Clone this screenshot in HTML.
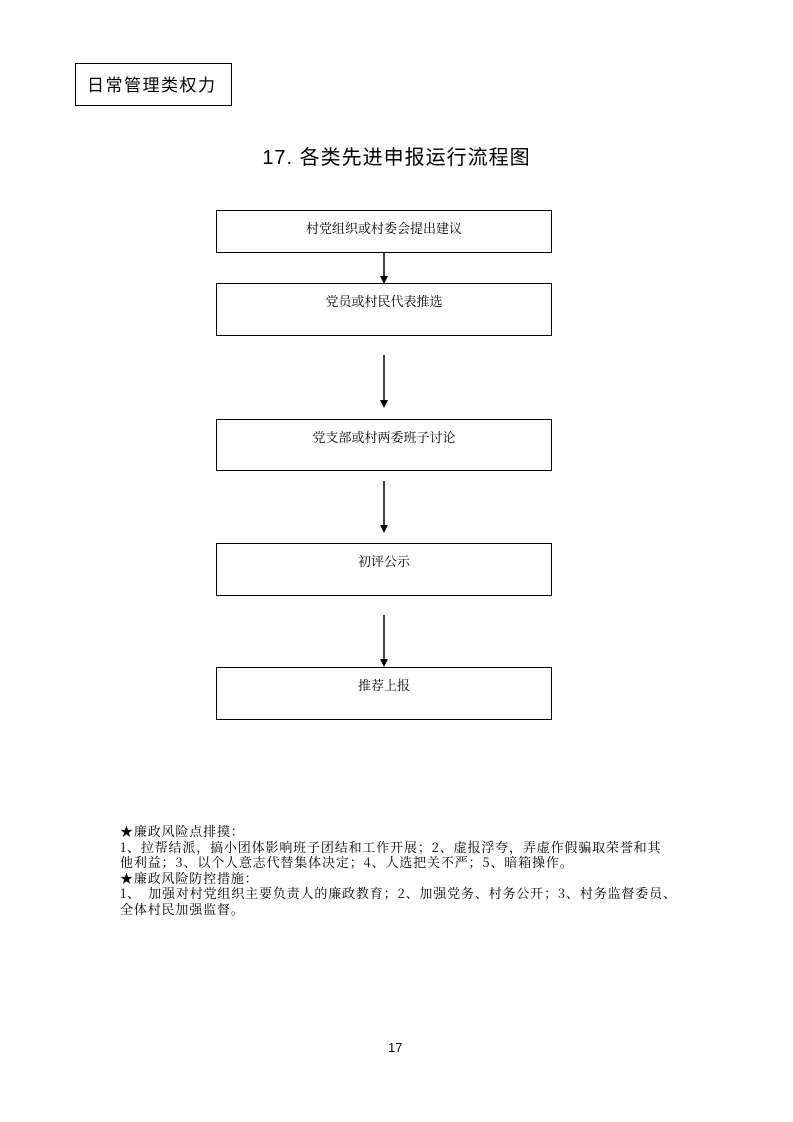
<!DOCTYPE html>
<html><head><meta charset="utf-8"><style>
body{margin:0;width:793px;height:1122px;background:#fff;position:relative;font-family:"Liberation Sans","Noto Sans CJK SC",sans-serif;color:#000}
.a{position:absolute}
.box{position:absolute;border:1.5px solid #000;box-sizing:border-box;text-align:center;font-family:"Noto Serif CJK SC","Liberation Serif",serif;font-size:13px;line-height:13px}
.notes{position:absolute;left:120px;top:823px;font-family:"Noto Serif CJK SC",serif;font-size:13px;line-height:15.5px;white-space:nowrap;letter-spacing:0.85px}
</style></head><body>
<div class="a" style="left:75px;top:63px;width:157px;height:43px;border:1.5px solid #000;box-sizing:border-box;font-size:17px;line-height:40px;padding-left:11px;font-family:'Noto Sans CJK SC',sans-serif;letter-spacing:1.5px">日常管理类权力</div>
<div class="a" style="left:0;width:793px;top:145px;text-align:center;font-size:20px;line-height:26px;font-family:'Liberation Sans','Noto Sans CJK SC',sans-serif;letter-spacing:1px">17. 各类先进申报运行流程图</div>
<div class="box" style="left:216px;top:210px;width:336px;height:43px;padding-top:10px">村党组织或村委会提出建议</div>
<div class="box" style="left:216px;top:283px;width:336px;height:53px;padding-top:10px">党员或村民代表推选</div>
<div class="box" style="left:216px;top:419px;width:336px;height:52px;padding-top:10px">党支部或村两委班子讨论</div>
<div class="box" style="left:216px;top:543px;width:336px;height:53px;padding-top:10px">初评公示</div>
<div class="box" style="left:216px;top:667px;width:336px;height:53px;padding-top:10px">推荐上报</div>
<svg class="a" style="left:0;top:0" width="793" height="1122">
<g stroke="#000" stroke-width="1.5" fill="#000">
<line x1="384" y1="253" x2="384" y2="277"/><polygon points="380,276 388,276 384,284" stroke="none"/>
<line x1="384" y1="355" x2="384" y2="401"/><polygon points="380,400 388,400 384,408" stroke="none"/>
<line x1="384" y1="481" x2="384" y2="526"/><polygon points="380,525 388,525 384,533" stroke="none"/>
<line x1="384" y1="615" x2="384" y2="660"/><polygon points="380,659 388,659 384,667" stroke="none"/>
</g></svg>
<div class="notes">★廉政风险点排摸：<br>1、拉帮结派，搞小团体影响班子团结和工作开展；2、虚报浮夸，弄虚作假骗取荣誉和其<br>他利益；3、以个人意志代替集体决定；4、人选把关不严；5、暗箱操作。<br>★廉政风险防控措施：<br>1、　加强对村党组织主要负责人的廉政教育；2、加强党务、村务公开；3、村务监督委员、<br>全体村民加强监督。</div>
<div class="a" style="left:388px;top:1040px;font-size:13px">17</div>
</body></html>
